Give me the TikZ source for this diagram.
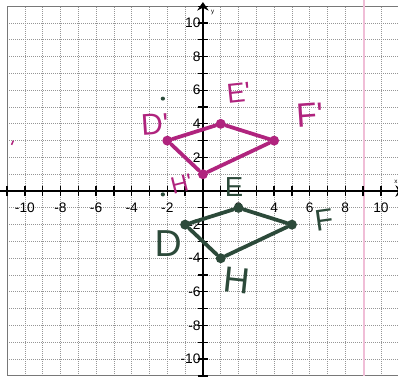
\documentclass[tikz,border=0pt]{standalone}
\usepackage{fontspec}
\setmainfont{Liberation Sans}
\usetikzlibrary{arrows.meta}
\definecolor{pen}{RGB}{176,36,126}
\definecolor{pencil}{RGB}{44,74,58}
\definecolor{paper}{RGB}{150,150,150}
\definecolor{scanline}{RGB}{240,190,215}
\tikzset{
  >={Stealth[length=2.4mm,width=3.2mm]},
  gridline/.style={densely dotted,paper,line width=0.6pt},
  axis/.style={black,line width=1.3pt},
  vtx/.style={circle,fill=#1,inner sep=0pt,minimum size=2.8mm},
  vtx/.default=pen,
  side/.style={draw=#1,line width=3pt,line cap=round},
  side/.default=pen,
  hand/.style={text=#1,inner sep=0pt,font=\fontsize{24}{24}\selectfont},
  hand/.default=pen,
  ticklab/.style={font=\fontsize{11}{11}\selectfont,inner sep=1pt},
}

\begin{document}
\begin{tikzpicture}[x=0.5cm,y=0.472cm]
  \useasboundingbox (-11.4,-11.01) rectangle (10.96,11.37);
  \fill[white] (-11.4,-11.01) rectangle (10.96,11.37);
  % graph paper
  \foreach \k in {-10,...,10}{
    \draw[gridline] (\k,-11) -- (\k,11);
    \draw[gridline] (-11,\k) -- (11,\k);
  }
  \draw[paper!80!black,line width=0.8pt] (11,11) -- (-11,11) -- (-11,-11) -- (11,-11);
  \draw[scanline,line width=1.6pt] (9.05,-11.01) -- (9.05,11.37);
  % axes
  \coordinate (xlo) at (-11.4,0);
  \coordinate (xhi) at (11.3,0);
  \coordinate (ylo) at (0,-11.01);
  \coordinate (yhi) at (0,11.25);
  \draw[axis,->] (xlo) -- (xhi);
  \draw[axis,->] (ylo) -- (yhi);
  \foreach \k in {-11,...,11}{
    \draw[axis,line width=1pt] (\k,-0.3) -- (\k,0.3);
    \draw[axis,line width=1pt] (-0.28,\k) -- (0.28,\k);
  }
  \foreach \k in {-10,-8,-6,-4,-2,2,4,6,8,10}{
    \node[ticklab] (xl\k) at (\k,-1.0) {\k};
    \node[ticklab,anchor=east] (yl\k) at (-0.05,\k) {\k};
  }
  \node[font=\fontsize{5}{5}\selectfont] (ylab) at (0.55,10.65) {y};
  \node[font=\fontsize{5}{5}\selectfont] (xlab) at (10.85,0.55) {x};
  % stray marks
  \fill[pencil] (-2.25,5.5) circle (0.12);
  \fill[pencil] (-2.25,-0.2) circle (0.12);
  \draw[pen,line width=1.2pt] (-10.75,2.75) -- (-10.65,3.0);
  % image D'E'F'H'
  \node[vtx] (Dp) at (-2,3) {};
  \node[vtx] (Ep) at (1,4) {};
  \node[vtx] (Fp) at (4,3) {};
  \node[vtx] (Hp) at (0,1) {};
  \draw[side] (Dp) -- (Ep) -- (Fp) -- (Hp) -- (Dp);
  \node[hand,rotate=4] (Dplab) at (-2.7,3.95) {D\textquotesingle};
  \node[hand,rotate=6,font=\fontsize{22}{22}\selectfont] (Eplab) at (2.0,5.85) {E\textquotesingle};
  \node[hand,rotate=4,font=\fontsize{27}{27}\selectfont] (Fplab) at (6.0,4.5) {F\textquotesingle};
  \node[hand,rotate=14,font=\fontsize{19}{19}\selectfont] (Hplab) at (-1.2,0.4) {H\textquotesingle};
  % pre-image DEFH
  \node[vtx=pencil] (D) at (-1,-2) {};
  \node[vtx=pencil] (E) at (2,-1) {};
  \node[vtx=pencil] (F) at (5,-2) {};
  \node[vtx=pencil] (H) at (1,-4) {};
  \draw[side=pencil] (D) -- (E) -- (F) -- (H) -- (D);
  \node[hand=pencil,font=\fontsize{22}{22}\selectfont] (Elab) at (1.75,0.25) {E};
  \node[hand=pencil,font=\fontsize{30}{30}\selectfont] (Dlab) at (-1.95,-3.1) {D};
  \node[hand=pencil,rotate=8,font=\fontsize{24}{24}\selectfont] (Flab) at (6.8,-1.7) {F};
  \node[hand=pencil,rotate=-6,font=\fontsize{29}{29}\selectfont] (Hlab) at (1.9,-5.35) {H};
\end{tikzpicture}
\end{document}
